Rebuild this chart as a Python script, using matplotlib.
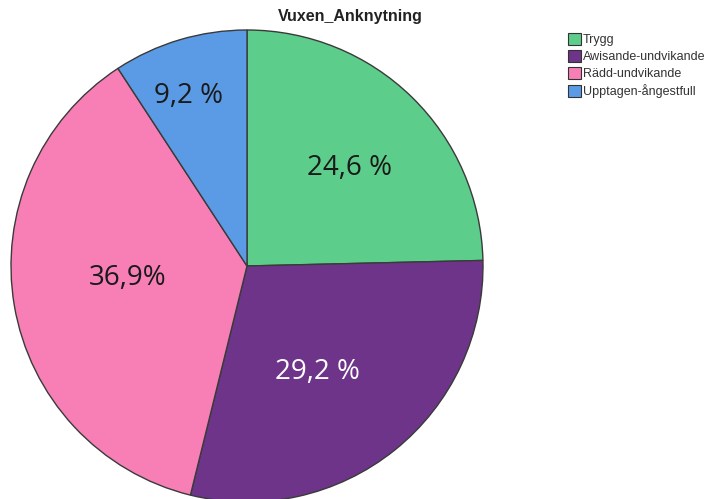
import matplotlib
matplotlib.use("Agg")
import matplotlib.pyplot as plt
import numpy as np

title = "Vuxen_Anknytning"
categories = ["Trygg", "Awisande-undvikande", "Rädd-undvikande", "Upptagen-ångestfull"]
values = [24.6, 29.2, 36.9, 9.2]
pct_labels = ["24,6 %", "29,2 %", "36,9%", "9,2 %"]
colors = ["#5ccd8a", "#6e3489", "#f77fb6", "#5b9be6"]
text_colors = ["#1a1a1a", "white", "#1a1a1a", "#1a1a1a"]
label_dist = [0.60, 0.54, 0.51, 0.76]
label_ang_off = [-2.1, -5.1, -3.7, 2.3]

W, H = 715, 499
fig = plt.figure(figsize=(W / 100, H / 100), dpi=100)
fig.patch.set_facecolor("white")

cx, cy, r = 247, 266, 236
ax = fig.add_axes([(cx - r) / W, (H - (cy + r)) / H, 2 * r / W, 2 * r / H])
wedges, _ = ax.pie(values, colors=colors, startangle=90, counterclock=False,
                   radius=1.0, wedgeprops=dict(edgecolor="#3a3a3a", linewidth=1.0))
ax.set_xlim(-1, 1)
ax.set_ylim(-1, 1)
ax.set_aspect("equal")
ax.axis("off")

for w, lab, tc, d, off in zip(wedges, pct_labels, text_colors, label_dist, label_ang_off):
    ang = np.deg2rad((w.theta1 + w.theta2) / 2 + off)
    ax.text(d * np.cos(ang), d * np.sin(ang), lab, ha="center", va="center",
            fontsize=20, color=tc, family=["Open Sans", "DejaVu Sans"])

fig.text(350 / W, 1 - 16 / H, title, ha="center", va="center", fontsize=11.5,
         fontweight="bold", color="#222222", family=["Liberation Sans", "DejaVu Sans"])

handles = [plt.Rectangle((0, 0), 1, 1, facecolor=c, edgecolor="#333333", linewidth=0.8)
           for c in colors]
leg = fig.legend(handles, categories, loc="upper left", bbox_to_anchor=(568 / W, 1 - 33 / H),
                 frameon=False, handlelength=1.05, handleheight=1.05,
                 handletextpad=0.15, labelspacing=0.32, borderpad=0.0, borderaxespad=0.0,
                 prop=dict(family=["Liberation Sans", "DejaVu Sans"], size=9))
for t in leg.get_texts():
    t.set_color("#333333")

fig.savefig("out.png", dpi=100, facecolor="white")
